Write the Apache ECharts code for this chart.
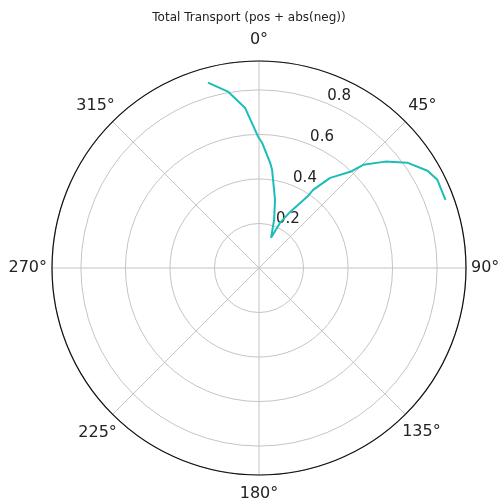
<!DOCTYPE html>
<html>
<head>
<meta charset="utf-8">
<script src="https://cdn.jsdelivr.net/npm/echarts@6/dist/echarts.min.js"></script>
<style>html,body{margin:0;padding:0;background:#fff}#c{width:498px;height:504px}</style>
</head>
<body>
<div id="c"></div>
<script>
const titleText = 'Total Transport (pos + abs(neg))';
const thetaDeg = [344.6, 350.0, 355.0, 359.6, 361.4, 366.0, 367.6, 373.2, 377.4, 381.8, 385.0, 389.0, 394.1, 394.7, 398.3, 403.5, 405.3, 409.9, 414.6, 420.0, 423.7, 429.9];
const radiusVals = [0.864, 0.805, 0.723, 0.590, 0.563, 0.476, 0.445, 0.315, 0.227, 0.146, 0.224, 0.288, 0.386, 0.427, 0.516, 0.596, 0.659, 0.742, 0.817, 0.874, 0.894, 0.892];
const radialTicks = [0.2, 0.4, 0.6, 0.8];
const angleTicks = [0, 45, 90, 135, 180, 225, 270, 315];
const rMax = 0.93;

const data = thetaDeg.map((t, i) => [radiusVals[i], ((t % 360) + 360) % 360]);

const font = 'DejaVu Sans';
// per-label padding [top, right, bottom, left] so labels sit centred on a common ring like matplotlib
const padFor = {
  0: [0, 0, 19, 0], 45: [0, 0, 12, 7], 90: [0, 0, 0, 11], 135: [14, 0, 0, 1],
  180: [17, 0, 0, 0], 225: [15, 0, 0, 0], 270: [0, 11, 0, 0], 315: [0, 2, 12, 0]
};
const rich = {};
angleTicks.forEach(a => {
  rich['a' + a] = {fontFamily: font, fontSize: 16, color: '#222', padding: padFor[a]};
});

const chart = echarts.init(document.getElementById('c'), null, {renderer: 'canvas'});
chart.setOption({
  animation: false,
  title: {
    text: titleText, left: 'center', top: 7,
    textStyle: {fontFamily: font, fontSize: 12, fontWeight: 'normal', color: '#222'}
  },
  polar: [
    {center: [259, 268], radius: 207},
    {center: [259, 268], radius: 207}
  ],
  angleAxis: [
    {
      polarIndex: 0, type: 'value', min: 0, max: 360, interval: 45,
      startAngle: 90, clockwise: true,
      axisLine: {lineStyle: {color: '#111', width: 1.2}},
      axisTick: {show: false},
      axisLabel: {
        margin: -6, fontFamily: font, fontSize: 16, color: '#222', rich: rich,
        formatter: v => (v >= 360 ? '' : '{a' + v + '|' + v + '°}')
      },
      splitLine: {show: true, lineStyle: {color: '#c4c4c4', width: 1}}
    },
    {
      polarIndex: 1, type: 'value', min: 0, max: 360, startAngle: 67.5, clockwise: true,
      show: false
    }
  ],
  radiusAxis: [
    {
      polarIndex: 0, type: 'value', min: 0, max: rMax, interval: 0.2,
      axisLine: {show: false}, axisTick: {show: false}, axisLabel: {show: false},
      splitLine: {show: true, lineStyle: {color: '#c4c4c4', width: 1}}
    },
    {
      polarIndex: 1, type: 'value', min: 0, max: rMax, interval: 0.2,
      axisLine: {show: false}, axisTick: {show: false}, splitLine: {show: false},
      axisLabel: {
        margin: 0, fontFamily: font, fontSize: 15, color: '#222',
        align: 'left', verticalAlign: 'bottom', rotate: 0,
        formatter: v => (radialTicks.some(t => Math.abs(t - v) < 1e-6) ? v.toFixed(1) : '')
      }
    }
  ],
  series: [{
    type: 'line', coordinateSystem: 'polar', polarIndex: 0,
    data: data, showSymbol: false, smooth: false,
    lineStyle: {color: '#1cbdb8', width: 2}
  }]
});
</script>
</body>
</html>
